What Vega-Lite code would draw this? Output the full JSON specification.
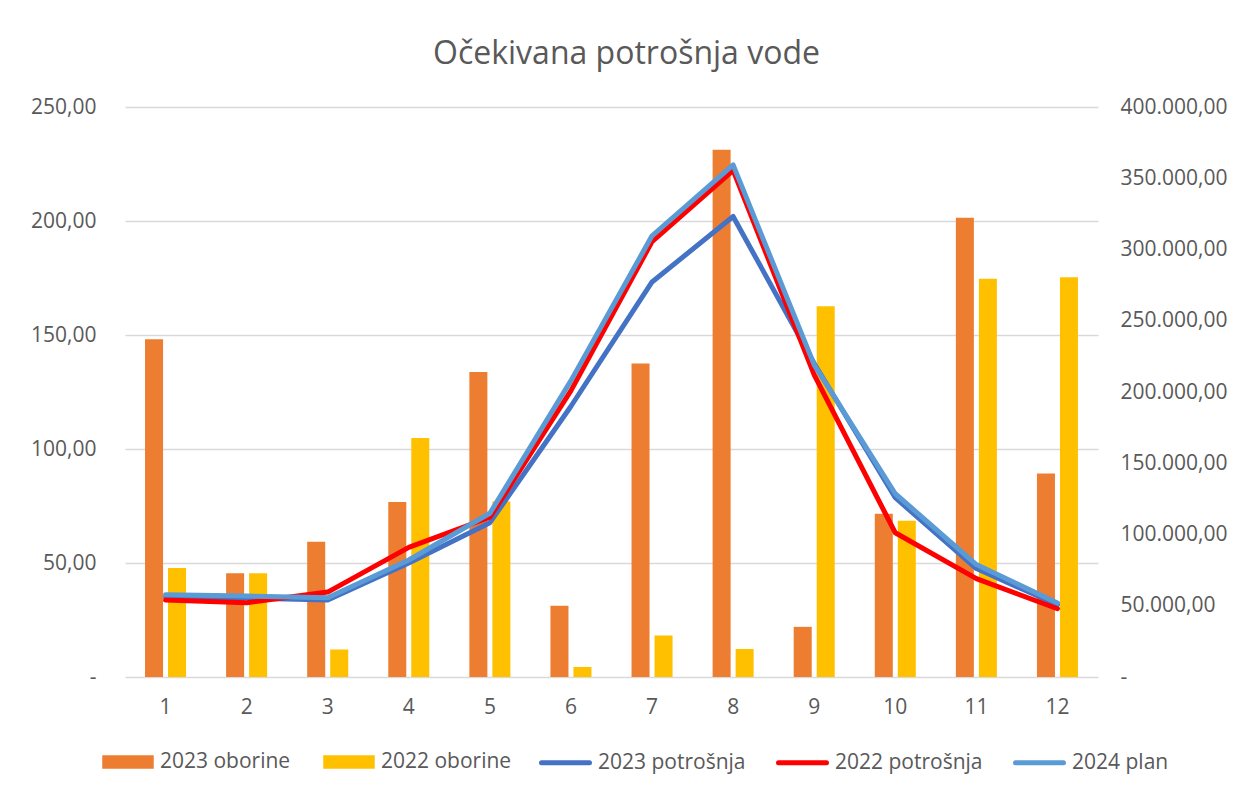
{
  "$schema": "https://vega.github.io/schema/vega-lite/v6.json",
  "autosize": {"type": "none"},
  "width": 973,
  "height": 570,
  "padding": {"left": 125, "top": 107, "right": 155, "bottom": 114},
  "background": "white",
  "title": {
    "text": "Očekivana potrošnja vode",
    "anchor": "middle",
    "frame": "group",
    "font": "Open Sans",
    "fontSize": 32,
    "fontWeight": "normal",
    "color": "#595959",
    "dx": 15,
    "offset": 25
  },
  "datasets": {
    "oborine": [
      {"mjesec": 1, "serija": "2023 oborine", "mm": 148.1},
      {"mjesec": 2, "serija": "2023 oborine", "mm": 45.5},
      {"mjesec": 3, "serija": "2023 oborine", "mm": 59.3},
      {"mjesec": 4, "serija": "2023 oborine", "mm": 76.8},
      {"mjesec": 5, "serija": "2023 oborine", "mm": 133.8},
      {"mjesec": 6, "serija": "2023 oborine", "mm": 31.3},
      {"mjesec": 7, "serija": "2023 oborine", "mm": 137.5},
      {"mjesec": 8, "serija": "2023 oborine", "mm": 231.3},
      {"mjesec": 9, "serija": "2023 oborine", "mm": 22.0},
      {"mjesec": 10, "serija": "2023 oborine", "mm": 71.6},
      {"mjesec": 11, "serija": "2023 oborine", "mm": 201.4},
      {"mjesec": 12, "serija": "2023 oborine", "mm": 89.3},
      {"mjesec": 1, "serija": "2022 oborine", "mm": 47.8},
      {"mjesec": 2, "serija": "2022 oborine", "mm": 45.5},
      {"mjesec": 3, "serija": "2022 oborine", "mm": 12.1},
      {"mjesec": 4, "serija": "2022 oborine", "mm": 104.8},
      {"mjesec": 5, "serija": "2022 oborine", "mm": 77.0},
      {"mjesec": 6, "serija": "2022 oborine", "mm": 4.4},
      {"mjesec": 7, "serija": "2022 oborine", "mm": 18.2},
      {"mjesec": 8, "serija": "2022 oborine", "mm": 12.3},
      {"mjesec": 9, "serija": "2022 oborine", "mm": 162.6},
      {"mjesec": 10, "serija": "2022 oborine", "mm": 68.5},
      {"mjesec": 11, "serija": "2022 oborine", "mm": 174.7},
      {"mjesec": 12, "serija": "2022 oborine", "mm": 175.3}
    ],
    "potrosnja": [
      {"mjesec": 1, "serija": "2023 potrošnja", "m3": 56100},
      {"mjesec": 2, "serija": "2023 potrošnja", "m3": 55400},
      {"mjesec": 3, "serija": "2023 potrošnja", "m3": 54000},
      {"mjesec": 4, "serija": "2023 potrošnja", "m3": 80000},
      {"mjesec": 5, "serija": "2023 potrošnja", "m3": 108300},
      {"mjesec": 6, "serija": "2023 potrošnja", "m3": 190000},
      {"mjesec": 7, "serija": "2023 potrošnja", "m3": 277200},
      {"mjesec": 8, "serija": "2023 potrošnja", "m3": 323200},
      {"mjesec": 9, "serija": "2023 potrošnja", "m3": 220000},
      {"mjesec": 10, "serija": "2023 potrošnja", "m3": 125800},
      {"mjesec": 11, "serija": "2023 potrošnja", "m3": 76100},
      {"mjesec": 12, "serija": "2023 potrošnja", "m3": 50700},
      {"mjesec": 1, "serija": "2022 potrošnja", "m3": 54000},
      {"mjesec": 2, "serija": "2022 potrošnja", "m3": 52100},
      {"mjesec": 3, "serija": "2022 potrošnja", "m3": 59600},
      {"mjesec": 4, "serija": "2022 potrošnja", "m3": 91000},
      {"mjesec": 5, "serija": "2022 potrošnja", "m3": 112100},
      {"mjesec": 6, "serija": "2022 potrošnja", "m3": 201000},
      {"mjesec": 7, "serija": "2022 potrošnja", "m3": 305500},
      {"mjesec": 8, "serija": "2022 potrošnja", "m3": 355600},
      {"mjesec": 9, "serija": "2022 potrošnja", "m3": 212000},
      {"mjesec": 10, "serija": "2022 potrošnja", "m3": 101200},
      {"mjesec": 11, "serija": "2022 potrošnja", "m3": 69000},
      {"mjesec": 12, "serija": "2022 potrošnja", "m3": 47900},
      {"mjesec": 1, "serija": "2024 plan", "m3": 57800},
      {"mjesec": 2, "serija": "2024 plan", "m3": 56800},
      {"mjesec": 3, "serija": "2024 plan", "m3": 55600},
      {"mjesec": 4, "serija": "2024 plan", "m3": 82100},
      {"mjesec": 5, "serija": "2024 plan", "m3": 114900},
      {"mjesec": 6, "serija": "2024 plan", "m3": 208000},
      {"mjesec": 7, "serija": "2024 plan", "m3": 309600},
      {"mjesec": 8, "serija": "2024 plan", "m3": 359400},
      {"mjesec": 9, "serija": "2024 plan", "m3": 219000},
      {"mjesec": 10, "serija": "2024 plan", "m3": 128600},
      {"mjesec": 11, "serija": "2024 plan", "m3": 78900},
      {"mjesec": 12, "serija": "2024 plan", "m3": 51900}
    ]
  },
  "layer": [
    {
      "data": {"name": "oborine"},
      "mark": {"type": "bar"},
      "encoding": {
        "x": {
          "field": "mjesec",
          "type": "ordinal",
          "scale": {"paddingInner": 0.494, "paddingOuter": 0.247},
          "axis": {
            "title": null,
            "labelAngle": 0,
            "ticks": false,
            "domain": false,
            "grid": false,
            "labelPadding": 19,
            "labelFont": "Open Sans",
            "labelFontSize": 21,
            "labelColor": "#595959"
          }
        },
        "xOffset": {
          "field": "serija",
          "type": "nominal",
          "sort": ["2023 oborine", "2022 oborine"],
          "scale": {"paddingInner": 0.217, "paddingOuter": 0}
        },
        "y": {
          "field": "mm",
          "type": "quantitative",
          "scale": {"domain": [0, 250], "nice": false},
          "axis": {
            "orient": "left",
            "title": null,
            "values": [0, 50, 100, 150, 200, 250],
            "format": ",.2f",
            "labelExpr": "datum.value === 0 ? '-' : datum.label",
            "ticks": false,
            "domain": false,
            "grid": true,
            "gridColor": "#d9d9d9",
            "gridWidth": 1.3,
            "labelPadding": 29,
            "labelFont": "Open Sans",
            "labelFontSize": 21,
            "labelColor": "#595959"
          }
        },
        "fill": {
          "field": "serija",
          "type": "nominal",
          "scale": {"domain": ["2023 oborine", "2022 oborine"], "range": ["#ED7D31", "#FFC000"]},
          "legend": {
            "title": null,
            "orient": "none",
            "direction": "horizontal",
            "legendX": -23,
            "legendY": 629,
            "symbolType": "M-1,-0.26H1V0.26H-1Z",
            "symbolSize": 2650,
            "symbolStrokeWidth": 0,
            "labelOffset": 6,
            "columnPadding": 32,
            "labelFont": "Open Sans",
            "labelFontSize": 21,
            "labelColor": "#595959"
          }
        }
      }
    },
    {
      "data": {"name": "potrosnja"},
      "mark": {"type": "line", "strokeWidth": 5, "strokeJoin": "round", "strokeCap": "round"},
      "encoding": {
        "x": {
          "field": "mjesec",
          "type": "ordinal",
          "scale": {"paddingInner": 0.494, "paddingOuter": 0.247}
        },
        "y": {
          "field": "m3",
          "type": "quantitative",
          "scale": {"domain": [0, 400000], "nice": false},
          "axis": {
            "orient": "right",
            "title": null,
            "values": [0, 50000, 100000, 150000, 200000, 250000, 300000, 350000, 400000],
            "format": ",.2f",
            "labelExpr": "datum.value === 0 ? '-' : datum.label",
            "ticks": false,
            "domain": false,
            "grid": false,
            "labelPadding": 22,
            "labelFont": "Open Sans",
            "labelFontSize": 21,
            "labelColor": "#595959"
          }
        },
        "stroke": {
          "field": "serija",
          "type": "nominal",
          "scale": {"domain": ["2023 potrošnja", "2022 potrošnja", "2024 plan"], "range": ["#4472C4", "#FF0000", "#5B9BD5"]},
          "legend": {
            "title": null,
            "orient": "none",
            "direction": "horizontal",
            "legendX": 414,
            "legendY": 629,
            "symbolType": "stroke",
            "symbolSize": 2300,
            "symbolStrokeWidth": 5,
            "labelOffset": 6,
            "columnPadding": 22,
            "labelFont": "Open Sans",
            "labelFontSize": 21,
            "labelColor": "#595959",
            "encode": {"symbols": {"update": {"strokeCap": {"value": "round"}}}}
          }
        }
      }
    }
  ],
  "resolve": {"scale": {"y": "independent"}},
  "config": {
    "locale": {"number": {"decimal": ",", "thousands": ".", "grouping": [3], "currency": ["", ""]}},
    "view": {"stroke": null},
    "font": "Open Sans"
  }
}
